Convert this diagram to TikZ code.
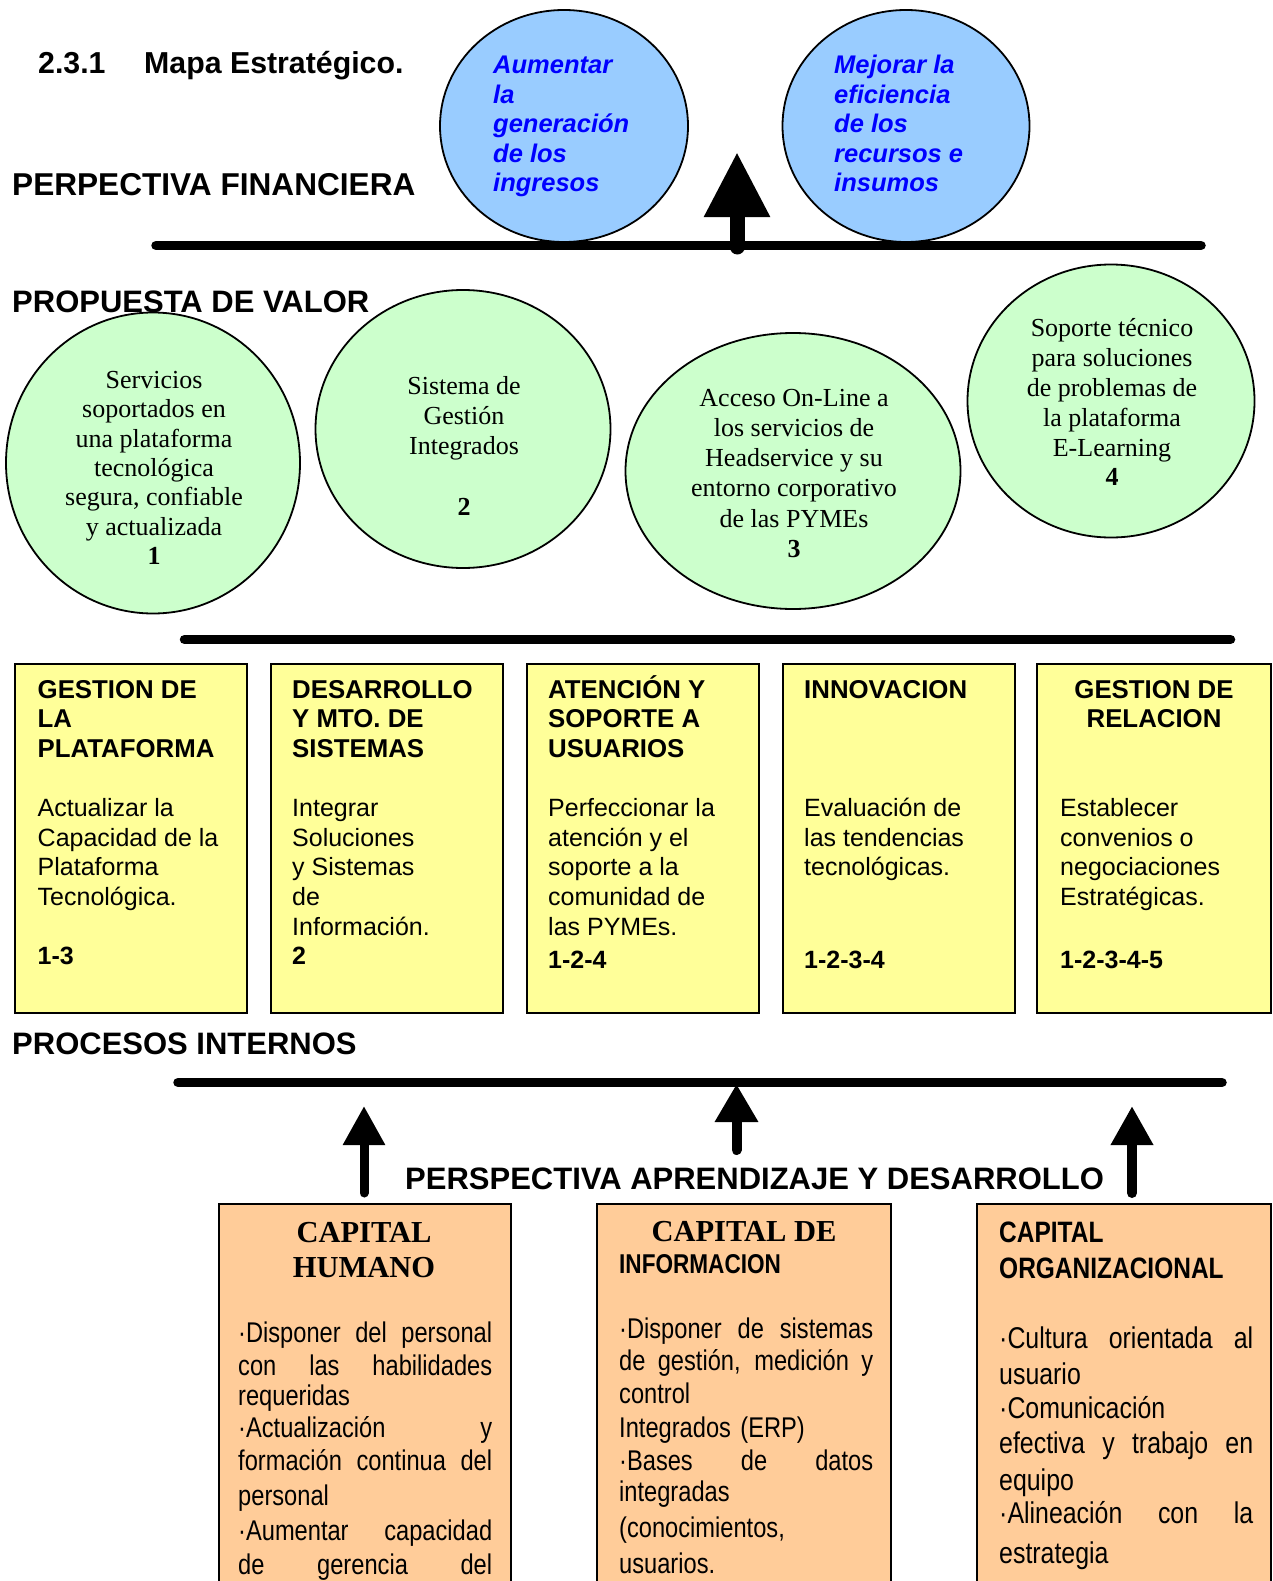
\documentclass[tikz,border=0pt]{standalone}
\usepackage{fontspec}
\setmainfont{Liberation Sans}
\newfontfamily\serifrm{Liberation Serif}
\newfontfamily\narrowsf[FakeStretch=0.83]{Liberation Sans}
\usetikzlibrary{shapes.geometric,arrows.meta}

\definecolor{finblue}{HTML}{99CCFF}
\definecolor{finink}{HTML}{0000FF}
\definecolor{valgreen}{HTML}{CCFFCC}
\definecolor{procyellow}{HTML}{FFFF99}
\definecolor{learnorange}{HTML}{FFCC99}

% first-line strut: every text block is hung from a point 24pt above its first baseline
\newcommand\firstln{\rule{0pt}{24pt}}
% a line spread over the full column width, the word spaces taking up the slack
\newcommand\jfull[1]{\leavevmode\hbox to 254pt{\spaceskip=0.25em plus 1fil\relax#1}}

\begin{document}
\begin{tikzpicture}[x=1pt,y=-1pt,
  section/.style={font=\fontsize{31}{36}\selectfont\bfseries, anchor=base west, inner sep=0},
  finoval/.style={ellipse, draw=black, line width=1.8pt, fill=finblue, inner sep=0},
  valoval/.style={ellipse, draw=black, line width=1.8pt, fill=valgreen, inner sep=0},
  fintext/.style={font=\fontsize{25.5}{29.5}\selectfont\bfseries\itshape, text=finink,
                  align=left, anchor=north west, inner sep=0},
  valtext/.style={font=\serifrm\fontsize{26}{#1}\selectfont, align=center, anchor=north, inner sep=0},
  procbox/.style={draw=black, line width=1.5pt, fill=procyellow, anchor=north west,
                  minimum width=232pt, minimum height=349pt, inner sep=0},
  prochead/.style={font=\fontsize{25.8}{29.6}\selectfont\bfseries, align=left, anchor=north west, inner sep=0},
  procbody/.style={font=\fontsize{25}{29.6}\selectfont, align=left, anchor=north west, inner sep=0},
  capbox/.style={draw=black, line width=1.5pt, fill=learnorange, anchor=north west,
                 minimum height=520pt, inner sep=0},
  captitle/.style={font=\serifrm\fontsize{30.5}{35}\selectfont\bfseries, align=center, inner sep=0},
  capbody/.style 2 args={font=\narrowsf\fontsize{#1}{#2}\selectfont, text width=254pt, align=left,
                  anchor=north west, inner sep=0},
  axis/.style={line width=9.5pt, line cap=round},
  uparrow/.style={line width=#1, line cap=round},
]
\useasboundingbox (0,0) rectangle (1272,1581);
\clip (0,0) rectangle (1272,1581);
\fill[white] (0,0) rectangle (1272,1581);

% ---------------- financial perspective ----------------
\node[finoval, minimum width=248pt, minimum height=232pt] (f1) at (564,126) {};
\node[finoval, minimum width=247pt, minimum height=232pt] (f2) at (906,126) {};
\node[fintext] (f1t) at (493,49.5) {\firstln Aumentar\\la\\generación\\de los\\ingresos};
\node[fintext] (f2t) at (834,49.5) {\firstln Mejorar la\\eficiencia\\de los\\recursos e\\insumos};

\node[font=\fontsize{30.3}{36}\selectfont\bfseries, anchor=base west, inner sep=0] (secnum) at (38,73.5) {2.3.1};
\node[font=\fontsize{30.3}{36}\selectfont\bfseries, anchor=base west, inner sep=0] (sectitle) at (144,73.5) {Mapa Estratégico.};
\node[section, font=\fontsize{31.6}{36}\selectfont\bfseries] (persfin) at (12,195.5) {PERPECTIVA FINANCIERA};

\coordinate (ax1w) at (156,245.5);
\coordinate (ax1e) at (1201,245.5);
\draw[axis] (ax1w) -- (ax1e);
\coordinate (up1s) at (737,247);
\coordinate (up1t) at (737,152);
\draw[uparrow=15pt, -{Triangle[width=62pt,length=65pt]}] (up1s) -- (up1t);

% ---------------- value proposition ----------------
\node[valoval, minimum width=294pt, minimum height=301pt] (v1) at (153,463) {};
\node[valoval, minimum width=295pt, minimum height=278pt] (v2) at (463,429) {};
\node[valoval, minimum width=335pt, minimum height=276pt] (v3) at (793,471) {};
\node[valoval, minimum width=287pt, minimum height=273pt] (v4) at (1111,401) {};

\node[valtext=29.4] (v1t) at (154,364) {\firstln Servicios\\soportados en\\una plataforma\\tecnológica\\segura, confiable\\y actualizada\\\textbf{1}};
\node[valtext=30.3] (v2t) at (464,370) {\firstln Sistema de\\Gestión\\Integrados\\[30.3pt]\textbf{2}};
\node[valtext=30.2] (v3t) at (794,382) {\firstln Acceso On-Line a\\los servicios de\\Headservice y su\\entorno corporativo\\de las PYMEs\\\textbf{3}};
\node[valtext=29.8] (v4t) at (1112,312.6) {\firstln Soporte técnico\\para soluciones\\de problemas de\\la plataforma\\E-Learning\\\textbf{4}};

\node[section] (propval) at (12,312.4) {PROPUESTA DE VALOR};

\coordinate (ax2w) at (184.5,639.5);
\coordinate (ax2e) at (1230.5,639.5);
\draw[axis] (ax2w) -- (ax2e);

% ---------------- internal processes ----------------
\node[procbox] (p1) at (14,663) {};
\node[procbox] (p2) at (270,663) {};
\node[procbox] (p3) at (526,663) {};
\node[procbox] (p4) at (782,663) {};
\node[procbox, minimum width=234pt] (p5) at (1036,663) {};

\node[prochead] (p1h) at (37.5,674) {\firstln GESTION DE\\LA\\PLATAFORMA};
\node[procbody] (p1b) at (37.5,792.4) {\firstln Actualizar la\\Capacidad de la\\Plataforma\\Tecnológica.\\[29.6pt]\textbf{1-3}};

\node[prochead] (p2h) at (292,674) {\firstln DESARROLLO\\Y MTO. DE\\SISTEMAS};
\node[procbody] (p2b) at (292,792.4) {\firstln Integrar\\Soluciones\\y Sistemas\\de\\Información.\\\textbf{2}};

\node[prochead] (p3h) at (548,674) {\firstln ATENCIÓN Y\\SOPORTE A\\USUARIOS};
\node[procbody] (p3b) at (548,792.4) {\firstln Perfeccionar la\\atención y el\\soporte a la\\comunidad de\\las PYMEs.\\[4pt]\textbf{1-2-4}};

\node[prochead] (p4h) at (804,674) {\firstln INNOVACION};
\node[procbody] (p4b) at (804,792.4) {\firstln Evaluación de\\las tendencias\\tecnológicas.\\[63.2pt]\textbf{1-2-3-4}};

\node[prochead, align=center, anchor=north] (p5h) at (1154,674) {\firstln GESTION DE\\RELACION};
\node[procbody] (p5b) at (1060,792.4) {\firstln Establecer\\convenios o\\negociaciones\\Estratégicas.\\[33.6pt]\textbf{1-2-3-4-5}};

\node[section] (procint) at (12,1054) {PROCESOS INTERNOS};

\coordinate (ax3w) at (178,1082.5);
\coordinate (ax3e) at (1222,1082.5);
\draw[axis] (ax3w) -- (ax3e);

% ---------------- learning and growth ----------------
\coordinate (up2s) at (364,1193);
\coordinate (up2t) at (364,1106);
\coordinate (up3s) at (736.5,1150);
\coordinate (up3t) at (736.5,1084);
\coordinate (up4s) at (1132,1193);
\coordinate (up4t) at (1132,1106);
\draw[uparrow=9pt, -{Triangle[width=40pt,length=39pt]}] (up2s) -- (up2t);
\draw[uparrow=10pt, -{Triangle[width=41pt,length=38pt]}] (up3s) -- (up3t);
\draw[uparrow=10pt, -{Triangle[width=40pt,length=39pt]}] (up4s) -- (up4t);

\node[section] (persap) at (405,1189) {PERSPECTIVA APRENDIZAJE Y DESARROLLO};

\node[capbox, minimum width=292pt] (cA) at (218,1203) {};
\node[capbox, minimum width=294pt] (cB) at (596,1203) {};
\node[capbox, minimum width=294pt] (cC) at (976,1203) {};

\node[captitle, anchor=north] (cAt) at (364,1218) {\firstln CAPITAL\\HUMANO};
\node[captitle, anchor=base] (cBt) at (744,1241) {CAPITAL DE};
\node[font=\narrowsf\fontsize{27.2}{34}\selectfont\bfseries, anchor=base west, inner sep=0] (cBt2) at (619,1273) {INFORMACION};
\node[font=\narrowsf\fontsize{29.5}{36}\selectfont\bfseries, align=left, anchor=north west, inner sep=0] (cCt) at (999,1218) {\firstln CAPITAL\\ORGANIZACIONAL};

\node[capbody={28.5}{32}] (cAb) at (238,1318.5) {\firstln\jfull{·Disponer del personal}\\[1pt]
  \jfull{con las habilidades}\\[-2pt]
  requeridas\\
  \jfull{·Actualización y}\\[1pt]
  \jfull{formación continua del}\\[3pt]
  personal\\[3pt]
  \jfull{·Aumentar capacidad}\\[2pt]
  \jfull{de gerencia del}};

\node[capbody={28.5}{32}] (cBb) at (619,1314.5) {\firstln\jfull{·Disponer de sistemas}\\
  \jfull{de gestión, medición y}\\[1pt]
  control\\[2pt]
  Integrados (ERP)\\[1pt]
  \jfull{·Bases de datos}\\[-1pt]
  integradas\\[4pt]
  (conocimientos,\\[4pt]
  usuarios.};

\node[capbody={30}{35}] (cCb) at (999,1324.5) {\firstln\jfull{·Cultura orientada al}\\[1pt]
  usuario\\[-1pt]
  ·Comunicación\\
  \jfull{efectiva y trabajo en}\\[2pt]
  equipo\\[-2pt]
  \jfull{·Alineación con la}\\[5pt]
  estrategia};
\end{tikzpicture}
\end{document}
